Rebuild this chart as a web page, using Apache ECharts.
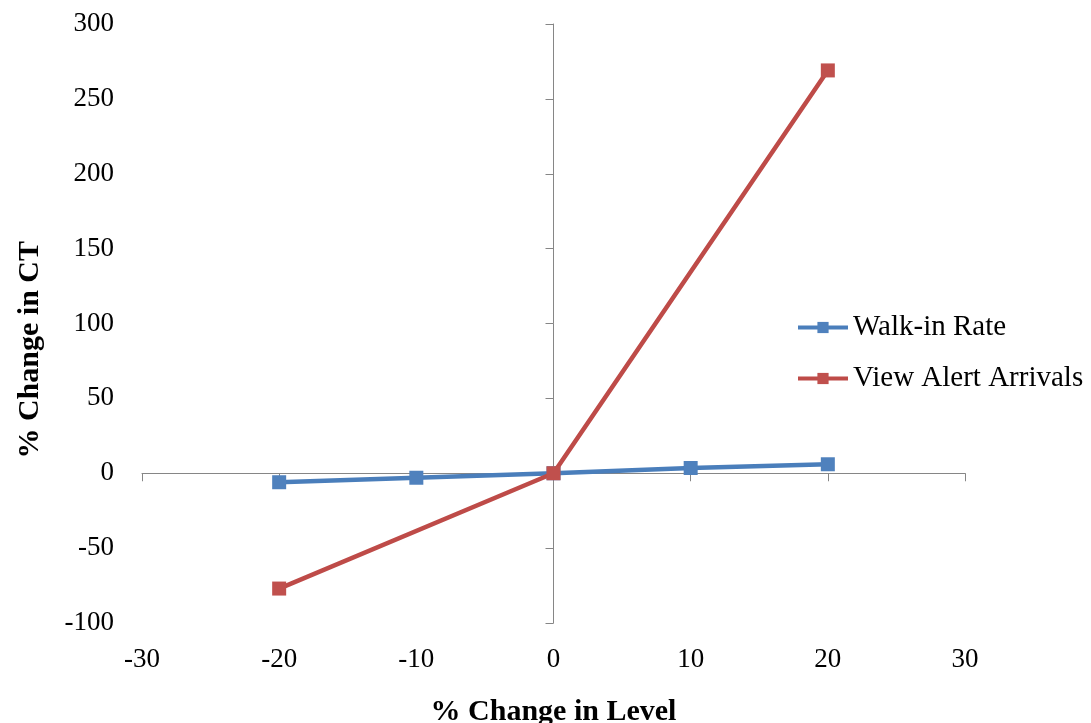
<!DOCTYPE html>
<html>
<head>
<meta charset="utf-8">
<script src="https://cdn.jsdelivr.net/npm/echarts@6/dist/echarts.min.js"></script>
<style>
html,body{margin:0;padding:0;background:#fff;}
#chart{width:1091px;height:723px;}
</style>
</head>
<body>
<div id="chart"></div>
<script>
const xLevels = [-20, -10, 0, 10, 20];
const walkInRate = [-6, -3, 0, 3.5, 6];
const viewAlertX = [-20, 0, 20];
const viewAlertArrivals = [-77, 0, 269];
const seriesNames = ['Walk-in Rate', 'View Alert Arrivals'];
const xTitle = '% Change in Level';
const yTitle = '% Change in CT';

const FONT = '"Liberation Serif", "Times New Roman", serif';
const axisGray = '#868686';

const chart = echarts.init(document.getElementById('chart'));
chart.setOption({
  animation: false,
  backgroundColor: '#fff',
  grid: { left: 142, right: 126, top: 24, bottom: 100, containLabel: false, outerBoundsMode: 'none' },
  legend: {
    orient: 'vertical',
    left: 791,
    top: 308,
    itemWidth: 50,
    itemHeight: 14,
    itemGap: 22,
    lineStyle: { width: 4 },
    textStyle: { fontFamily: FONT, fontSize: 29, color: '#000' },
    data: seriesNames
  },
  xAxis: [
    {
      type: 'value', min: -30, max: 30, interval: 10, position: 'bottom',
      axisLine: { show: false, onZero: false },
      axisTick: { show: false },
      splitLine: { show: false },
      axisLabel: { fontFamily: FONT, fontSize: 27, color: '#000', margin: 23 },
      name: xTitle, nameLocation: 'middle', nameGap: 74,
      nameTextStyle: { fontFamily: FONT, fontSize: 30, fontWeight: 'bold', color: '#000' }
    },
    {
      type: 'value', min: -30, max: 30, interval: 10, position: 'bottom',
      axisLine: { show: true, onZero: true, onZeroAxisIndex: 0, lineStyle: { color: axisGray, width: 1 } },
      axisTick: { show: true, length: 8, lineStyle: { color: axisGray } },
      axisLabel: { show: false },
      splitLine: { show: false }
    }
  ],
  yAxis: [
    {
      type: 'value', min: -100, max: 300, interval: 50, position: 'left',
      axisLine: { show: false, onZero: false },
      axisTick: { show: false },
      splitLine: { show: false },
      axisLabel: { fontFamily: FONT, fontSize: 27, color: '#000', margin: 28 }
    },
    {
      type: 'value', min: -100, max: 300, interval: 50, position: 'left',
      axisLine: { show: true, onZero: true, onZeroAxisIndex: 0, lineStyle: { color: axisGray, width: 1 } },
      axisTick: { show: true, length: 8, lineStyle: { color: axisGray } },
      axisLabel: { show: false },
      splitLine: { show: false }
    }
  ],
  graphic: [
    {
      type: 'text', left: 15, top: 241, rotation: Math.PI / 2,
      style: { text: yTitle, font: 'bold 30px ' + FONT, fill: '#000' }
    }
  ],
  series: [
    {
      name: seriesNames[0], type: 'line', xAxisIndex: 0, yAxisIndex: 0,
      data: xLevels.map((x, i) => [x, walkInRate[i]]),
      symbol: 'rect', symbolSize: 14,
      lineStyle: { color: '#4A7EBB', width: 4.5 },
      itemStyle: { color: '#4F81BD' },
      z: 3
    },
    {
      name: seriesNames[1], type: 'line', xAxisIndex: 0, yAxisIndex: 0,
      data: viewAlertX.map((x, i) => [x, viewAlertArrivals[i]]),
      symbol: 'rect', symbolSize: 14,
      lineStyle: { color: '#BE4B48', width: 4.5 },
      itemStyle: { color: '#C0504D' },
      z: 4
    }
  ]
});
</script>
</body>
</html>
